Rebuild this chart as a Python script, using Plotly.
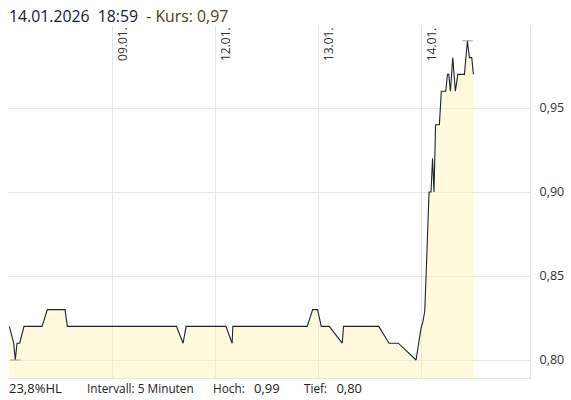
import plotly.graph_objects as go

# trading-day position (0 = start of 08.01.) and price
t = [0.0, 0.042, 0.058, 0.074, 0.100, 0.142, 0.317, 0.369, 0.540, 0.563,
     1.621, 1.685, 1.715, 2.100, 2.161, 2.168, 2.889, 2.942, 2.990, 3.025,
     3.103, 3.229, 3.241, 3.583, 3.683, 3.773, 3.945, 3.993, 4.012, 4.029,
     4.042, 4.058, 4.071, 4.090, 4.105, 4.119, 4.134, 4.171, 4.190, 4.233,
     4.249, 4.262, 4.278, 4.301, 4.326, 4.350, 4.414, 4.443, 4.462, 4.485,
     4.501]
kurs = [0.82, 0.81, 0.80, 0.81, 0.81, 0.82, 0.82, 0.83, 0.83, 0.82,
        0.82, 0.81, 0.82, 0.82, 0.81, 0.82, 0.82, 0.83, 0.83, 0.82,
        0.82, 0.81, 0.82, 0.82, 0.81, 0.81, 0.80, 0.819, 0.823, 0.829,
        0.85, 0.88, 0.90, 0.90, 0.92, 0.90, 0.94, 0.94, 0.96, 0.96,
        0.97, 0.97, 0.96, 0.98, 0.96, 0.97, 0.97, 0.99, 0.98, 0.98,
        0.97]

day_pos = [1, 2, 3, 4]
day_labels = ["09.01.", "12.01.", "13.01.", "14.01."]
y_ticks = [0.80, 0.85, 0.90, 0.95]

title_date = "14.01.2026\u00a0\u00a018:59\u00a0\u00a0"
title_kurs = "- Kurs: 0,97"
NUM = "<span style='font-size:13px'>{}</span>"
footer = [NUM.format("23,8%HL"),
          "Intervall: 5 Minuten",
          "Hoch:\u00a0\u00a0\u00a0" + NUM.format("0,99"),
          "Tief:\u00a0\u00a0\u00a0" + NUM.format("0,80")]
footer_px = [8, 86, 212, 303]

FONT = "Open Sans"
L, R, T, B = 8, 41, 26, 22
W, H = 571, 400
pw, ph = W - L - R, H - T - B

fig = go.Figure()
fig.add_trace(go.Scatter(
    x=t, y=kurs, mode="lines", fill="tozeroy",
    line=dict(color="#1b2631", width=1.1),
    fillcolor="rgba(255,240,160,0.35)", hoverinfo="skip", showlegend=False))

# low / high markers
i_lo = kurs.index(min(kurs))
i_hi = kurs.index(max(kurs))
for i in (i_lo, i_hi):
    fig.add_trace(go.Scatter(
        x=[t[i] - 0.05, t[i] + 0.05], y=[kurs[i], kurs[i]], mode="lines",
        line=dict(color="#9a9a9a", width=1), hoverinfo="skip", showlegend=False))

annotations = []
for p, lab in zip(day_pos, day_labels):
    annotations.append(dict(
        x=p, xref="x", y=1, yref="paper", text=lab, textangle=-90,
        showarrow=False, xanchor="left", yanchor="top", xshift=-1, yshift=1,
        font=dict(family=FONT, size=12, color="#333333")))

annotations.append(dict(
    x=0, xref="paper", y=1 + (T - 16) / ph, yref="paper",
    text=title_date + "<span style='color:#4a4123'>" + title_kurs + "</span>",
    showarrow=False, xanchor="left", yanchor="middle", xshift=-1,
    font=dict(family=FONT, size=15.8, color="#16212d")))

for txt, px in zip(footer, footer_px):
    annotations.append(dict(
        x=(px - L) / pw, xref="paper", y=-(388 - (H - B)) / ph, yref="paper",
        text=txt, showarrow=False, xanchor="left", yanchor="middle", xshift=-1,
        font=dict(family=FONT, size=11.8, color="#222222")))

fig.update_layout(
    width=W, height=H, margin=dict(l=L, r=R, t=T, b=B),
    paper_bgcolor="white", plot_bgcolor="white",
    separators=",.", annotations=annotations,
    xaxis=dict(range=[-0.013, 5.05], tickvals=day_pos, showticklabels=False,
               showgrid=True, gridcolor="#e6e6e6", gridwidth=1, zeroline=False,
               showline=True, linecolor="#e6e6e6", linewidth=1, ticks=""),
    yaxis=dict(range=[0.78929, 0.99881], side="right", tickvals=y_ticks,
               tickformat=".2f", showgrid=True, gridcolor="#e6e6e6", gridwidth=1,
               zeroline=False, showline=True, linecolor="#e6e6e6", linewidth=1,
               ticks="", ticklabelstandoff=6,
               tickfont=dict(family=FONT, size=12.5, color="#333333")),
)

fig.write_html("out.html", config={"displayModeBar": False},
               post_script="document.body.style.margin='0';document.body.style.padding='0';")
